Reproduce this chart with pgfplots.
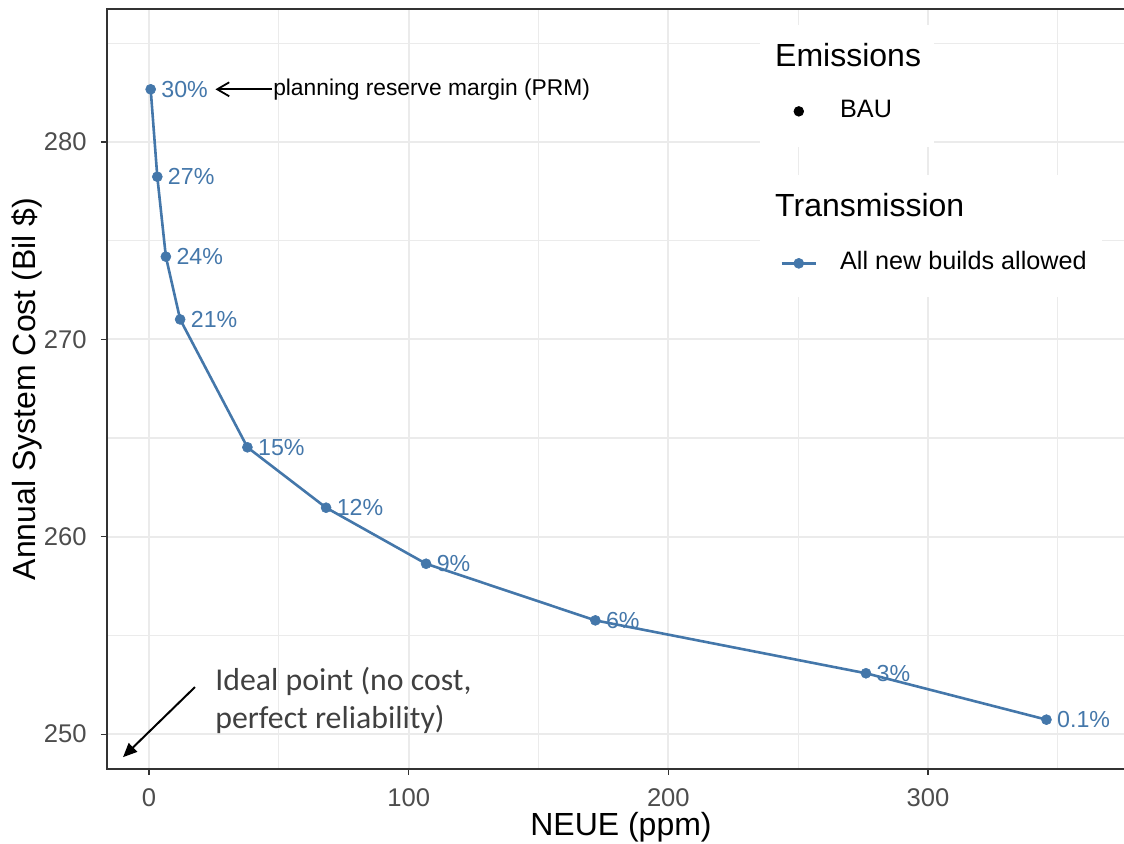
\documentclass[border=0pt]{standalone}
\usepackage{fontspec}
\setmainfont{Liberation Sans}
\newfontfamily\calibri{Carlito}
\usepackage{pgfplots}
\pgfplotsset{compat=1.18}
\usepackage{pgfplotstable}
\usetikzlibrary{arrows.meta}
\definecolor{tolblue}{HTML}{4477AA}
\definecolor{gridc}{HTML}{EBEBEB}
\definecolor{border}{HTML}{333333}
\definecolor{ticklab}{HTML}{4D4D4D}

\pgfplotstableread{
x y lab
0.65 282.67 30
3.2 278.24 27
6.5 274.19 24
12.0 271.01 21
37.9 264.53 15
68.2 261.47 12
106.7 258.63 9
171.9 255.76 6
276.1 253.08 3
345.6 250.73 0.1
}\frontier

\begin{document}
\begin{tikzpicture}
\useasboundingbox (-53.5pt,-37.5pt) rectangle (508.5pt,384.5pt);
\begin{axis}[
  scale only axis, width=514pt, height=380pt,
  at={(0,0)}, anchor=south west,
  xmin=-16.17, xmax=379.7, ymin=248.23, ymax=286.74,
  xtick={0,100,200,300}, ytick={250,260,270,280},
  minor xtick={50,150,250,350}, minor ytick={255,265,275,285},
  tick pos=left,
  tick align=outside, major tick length=3pt, minor tick length=0pt,
  every tick/.style={border, line width=0.55pt},
  grid=both,
  major grid style={gridc, line width=1.1pt},
  minor grid style={gridc, line width=0.6pt},
  axis line style={border, line width=0.6pt},
  tick label style={text=ticklab, font=\fontsize{12.8}{15}\selectfont, inner sep=0pt},
  /pgf/number format/assume math mode=true,
  xticklabel style={anchor=north, yshift=-6.5pt},
  yticklabel style={anchor=east, xshift=-7pt},
  xlabel={NEUE (ppm)}, ylabel={Annual System Cost (Bil \$)},
  label style={font=\fontsize{16}{19}\selectfont, inner sep=0pt},
  xlabel style={at={(axis description cs:0.5,0)}, anchor=base, yshift=-33.5pt},
  ylabel style={at={(axis description cs:-0.0691,0.5)}, anchor=base, rotate=0},
  legend style={at={(0.6547,0.8816)}, anchor=north west, draw=none, fill=none,
    inner sep=0pt, row sep=64pt, column sep=11.5pt,
    font=\fontsize{12.6}{15}\selectfont,
    nodes={inner sep=0pt, text height=9pt, text depth=3pt}},
  legend cell align=left,
]
\fill[white] (axis cs:235.3,279.75) rectangle (axis cs:302.3,285.93);
\fill[white] (axis cs:235.3,272.15) rectangle (axis cs:367.0,278.33);

\addplot[forget plot, tolblue, line width=1.3pt, mark=*, mark size=2.5pt,
  mark options={fill=tolblue, draw=tolblue, line width=0.3pt},
  point meta=explicit symbolic,
  nodes near coords={\pgfplotspointmeta\%},
  every node near coord/.style={anchor=west, xshift=5.2pt, inner sep=0pt, text=tolblue,
    font=\fontsize{11.6}{13}\selectfont}]
  table[x=x, y=y, meta=lab] {\frontier};

\addlegendimage{only marks, mark=*, black, mark size=2.4pt}
\addlegendentry{BAU}
\addlegendimage{tolblue, line width=1.3pt, mark=*, mark size=2.5pt, mark options={fill=tolblue, line width=0.3pt}}
\addlegendentry{All new builds allowed}

\node[anchor=base west, inner sep=0pt, font=\fontsize{16}{19}\selectfont] at (axis cs:241.0,283.85) {Emissions};
\node[anchor=base west, inner sep=0pt, font=\fontsize{16}{19}\selectfont] at (axis cs:241.0,276.20) {Transmission};

\draw[-{Straight Barb[length=6pt,width=7pt]}, line width=0.9pt] (axis cs:47.4,282.67) -- (axis cs:25.6,282.67);
\node[anchor=west, inner sep=0pt, font=\fontsize{11.4}{13}\selectfont] at (axis cs:47.7,282.67) {planning reserve margin (PRM)};

\draw[-{Triangle[length=7pt,width=6pt]}, line width=1pt] (axis cs:17.7,252.38) -- (axis cs:-10.0,248.83);
\node[anchor=base west, inner sep=0pt, font=\calibri\fontsize{15.9}{19}\selectfont, text=black!75] at (axis cs:25.4,252.23) {Ideal point (no cost,};
\node[anchor=base west, inner sep=0pt, font=\calibri\fontsize{15.9}{19}\selectfont, text=black!75] at (axis cs:25.4,250.30) {perfect reliability)};
\end{axis}
\end{tikzpicture}
\end{document}
